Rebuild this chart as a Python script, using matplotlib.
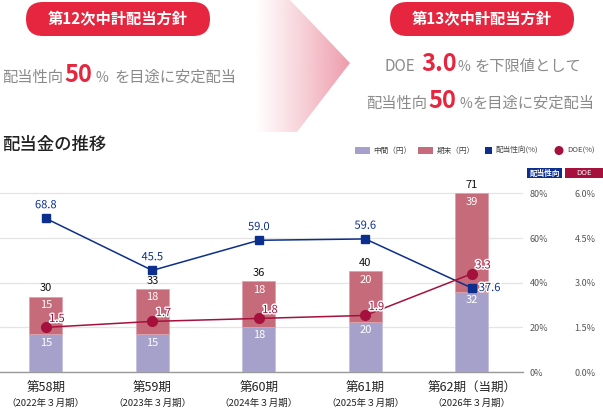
import matplotlib
matplotlib.use('Agg')
import matplotlib.pyplot as plt
import matplotlib.patheffects as pe
import numpy as np
from matplotlib.patches import FancyBboxPatch, Polygon, Rectangle, Circle

plt.rcParams['font.family'] = ['Noto Sans CJK JP', 'DejaVu Sans']

# data
periods = ['第58期', '第59期', '第60期', '第61期', '第62期（当期）']
fiscal = ['（2022年３月期）', '（2023年３月期）', '（2024年３月期）',
          '（2025年３月期）', '（2026年３月期）']
interim = [15, 15, 18, 20, 32]
year_end = [15, 18, 18, 20, 39]
payout = [68.8, 45.5, 59.0, 59.6, 37.6]
doe = [1.5, 1.7, 1.8, 1.9, 3.3]
payout_ticks = [0, 20, 40, 60, 80]
doe_ticks = [0.0, 1.5, 3.0, 4.5, 6.0]

PURPLE = '#a6a1ca'
ROSE = '#c56b79'
NAVY = '#0c2e8c'
CRIMSON = '#a5103d'
RED = '#e5263e'
GRAY = '#8a8a8a'

W, H = 603, 408
fig = plt.figure(figsize=(W / 100, H / 100), dpi=100)

# overlay in pixel coordinates for the header part
bg = fig.add_axes([0, 0, 1, 1])
bg.set_xlim(0, W)
bg.set_ylim(H, 0)
bg.axis('off')

# gradient chevron
arrow = Polygon([(255, 0), (290, 0), (350, 63), (297, 132), (255, 132)],
                closed=True, fc='none', ec='none')
bg.add_patch(arrow)
grad = np.zeros((1, 256, 4))
grad[..., 0] = 0xee / 255
grad[..., 1] = 0x9c / 255
grad[..., 2] = 0xab / 255
grad[..., 3] = np.linspace(0, 1, 256) ** 1.1
im = bg.imshow(grad, extent=(255, 350, 132, 0), aspect='auto', origin='upper')
im.set_clip_path(arrow)
bg.set_xlim(0, W)
bg.set_ylim(H, 0)

# policy pills
for x0, label in [(26, '第12次中計配当方針'), (390, '第13次中計配当方針')]:
    bg.add_patch(FancyBboxPatch((x0, 2), 184, 34,
                                boxstyle='round,pad=0,rounding_size=17',
                                fc=RED, ec='none'))
    bg.text(x0 + 92, 19, label, color='white', fontsize=11, fontweight='bold',
            ha='center', va='center')

def policy_line(pieces, base):
    for x0, s, big in pieces:
        if big:
            bg.text(x0, base, s, color=RED, fontsize=17, fontweight='bold',
                    ha='left', va='baseline')
        elif s == '%':
            bg.text(x0, base, s, color=GRAY, fontsize=10, ha='left', va='baseline')
        else:
            bg.text(x0, base, s, color=GRAY, fontsize=11, ha='left', va='baseline')

policy_line([(2, '配当性向', False), (64, '50', True), (96, '%', False),
             (115, 'を目途に安定配当', False)], 82)
policy_line([(385, 'DOE', False), (421, '3.0', True), (458, '%', False),
             (475, 'を下限値として', False)], 71)
policy_line([(366, '配当性向', False), (428, '50', True), (459, '%', False),
             (473, 'を目途に安定配当', False)], 108)

bg.text(2, 145, '配当金の推移', fontsize=12.5, fontweight='medium',
        color='#222222', ha='left', va='center')

# legend
bg.add_patch(Rectangle((355, 147), 15, 7, fc=PURPLE, ec='none'))
bg.text(373, 150.5, '中間（円）', fontsize=5.5, color='#444444', va='center')
bg.add_patch(Rectangle((418, 147), 15, 7, fc=ROSE, ec='none'))
bg.text(437, 150.5, '期末（円）', fontsize=5.5, color='#444444', va='center')
bg.add_patch(Rectangle((485, 147), 7, 7, fc=NAVY, ec='none'))
bg.text(496, 150.5, '配当性向(%)', fontsize=5.5, color='#444444', va='center')
bg.add_patch(Circle((559, 150.5), 4.5, fc=CRIMSON, ec='none'))
bg.text(567, 150.5, 'DOE(%)', fontsize=5.5, color='#444444', va='center')

# axis badges
bg.add_patch(Rectangle((527, 168), 35, 10, fc=NAVY, ec='none'))
bg.text(544.5, 173, '配当性向', fontsize=5.5, color='white', fontweight='bold',
        ha='center', va='center')
bg.add_patch(Rectangle((565, 168), 38, 10, fc=CRIMSON, ec='none'))
bg.text(584, 173, 'DOE', fontsize=5.5, color='white', ha='center', va='center')

# chart axes
ax = fig.add_axes([0, 1 - 372 / H, 523 / W, 192 / H])
pct_top = 86
x = np.arange(len(periods))

axb = ax.twinx()   # bars (yen)
axp = ax.twinx()   # payout ratio
axd = ax.twinx()   # DOE

ax.set_ylim(0, pct_top)
ax.set_xlim(-0.43, 4.48)
ax.set_facecolor('none')
for s in ax.spines.values():
    s.set_visible(False)
ax.spines['bottom'].set_visible(True)
ax.spines['bottom'].set_color('#9a9a9a')
ax.spines['bottom'].set_linewidth(1)
ax.set_yticks(payout_ticks, [f'{t}%' for t in payout_ticks])
ax.yaxis.tick_right()
ax.tick_params(axis='y', length=0, pad=5, labelsize=6.5, labelcolor='#555555')
ax.grid(axis='y', color='#e4e4e4', linewidth=0.9)
ax.set_axisbelow(True)
ax.set_xticks(x, periods)
ax.tick_params(axis='x', length=0, pad=7, labelsize=9, labelcolor='#222222')
for xi, f in zip(x, fiscal):
    ax.text(xi, -0.165, f, transform=ax.get_xaxis_transform(), ha='center',
            va='center', fontsize=6.8, color='#222222')

axb.set_ylim(0, pct_top * 71 / 80)
axb.axis('off')
totals = [a + b for a, b in zip(interim, year_end)]
axb.bar(x, interim, width=0.31, color=PURPLE, edgecolor='#c3bfdd', linewidth=0.6)
axb.bar(x, year_end, width=0.31, bottom=interim, color=ROSE,
        edgecolor='#dca3ad', linewidth=0.6)
for xi, a, b, t in zip(x, interim, year_end, totals):
    axb.annotate(str(a), (xi, a), xytext=(0, -6), textcoords='offset points',
                 ha='center', va='center', color='white', fontsize=8)
    axb.annotate(str(b), (xi, t), xytext=(0, -6), textcoords='offset points',
                 ha='center', va='center', color='white', fontsize=8)
    axb.annotate(str(t), (xi, t), xytext=(0, 6), textcoords='offset points',
                 ha='center', va='center', color='#111111', fontsize=8)

halo = [pe.withStroke(linewidth=2, foreground='white')]

axp.set_ylim(0, pct_top)
axp.axis('off')
axp.plot(x, payout, color=NAVY, linewidth=1.1, marker='s', markersize=5.8)
for i, (xi, v) in enumerate(zip(x, payout)):
    last = i == len(x) - 1
    axp.annotate(f'{v:.1f}', (xi, v), xytext=(5, 0) if last else (0, 9.5),
                 textcoords='offset points', ha='left' if last else 'center',
                 va='center', color=NAVY, fontsize=8, path_effects=halo)

axd.set_ylim(0, pct_top * 6 / 80)
for s in axd.spines.values():
    s.set_visible(False)
axd.set_yticks(doe_ticks, [f'{t:.1f}%' for t in doe_ticks])
axd.yaxis.tick_right()
axd.tick_params(axis='y', length=0, pad=37, labelsize=6.5, labelcolor='#555555')
axd.plot(x, doe, color=CRIMSON, linewidth=1.1, marker='o', markersize=7)
for xi, v in zip(x, doe):
    axd.annotate(f'{v:.1f}', (xi, v), xytext=(8, 6), textcoords='offset points',
                 ha='center', va='center', color=CRIMSON, fontsize=8,
                 path_effects=halo)

fig.savefig('out.png', dpi=100)
